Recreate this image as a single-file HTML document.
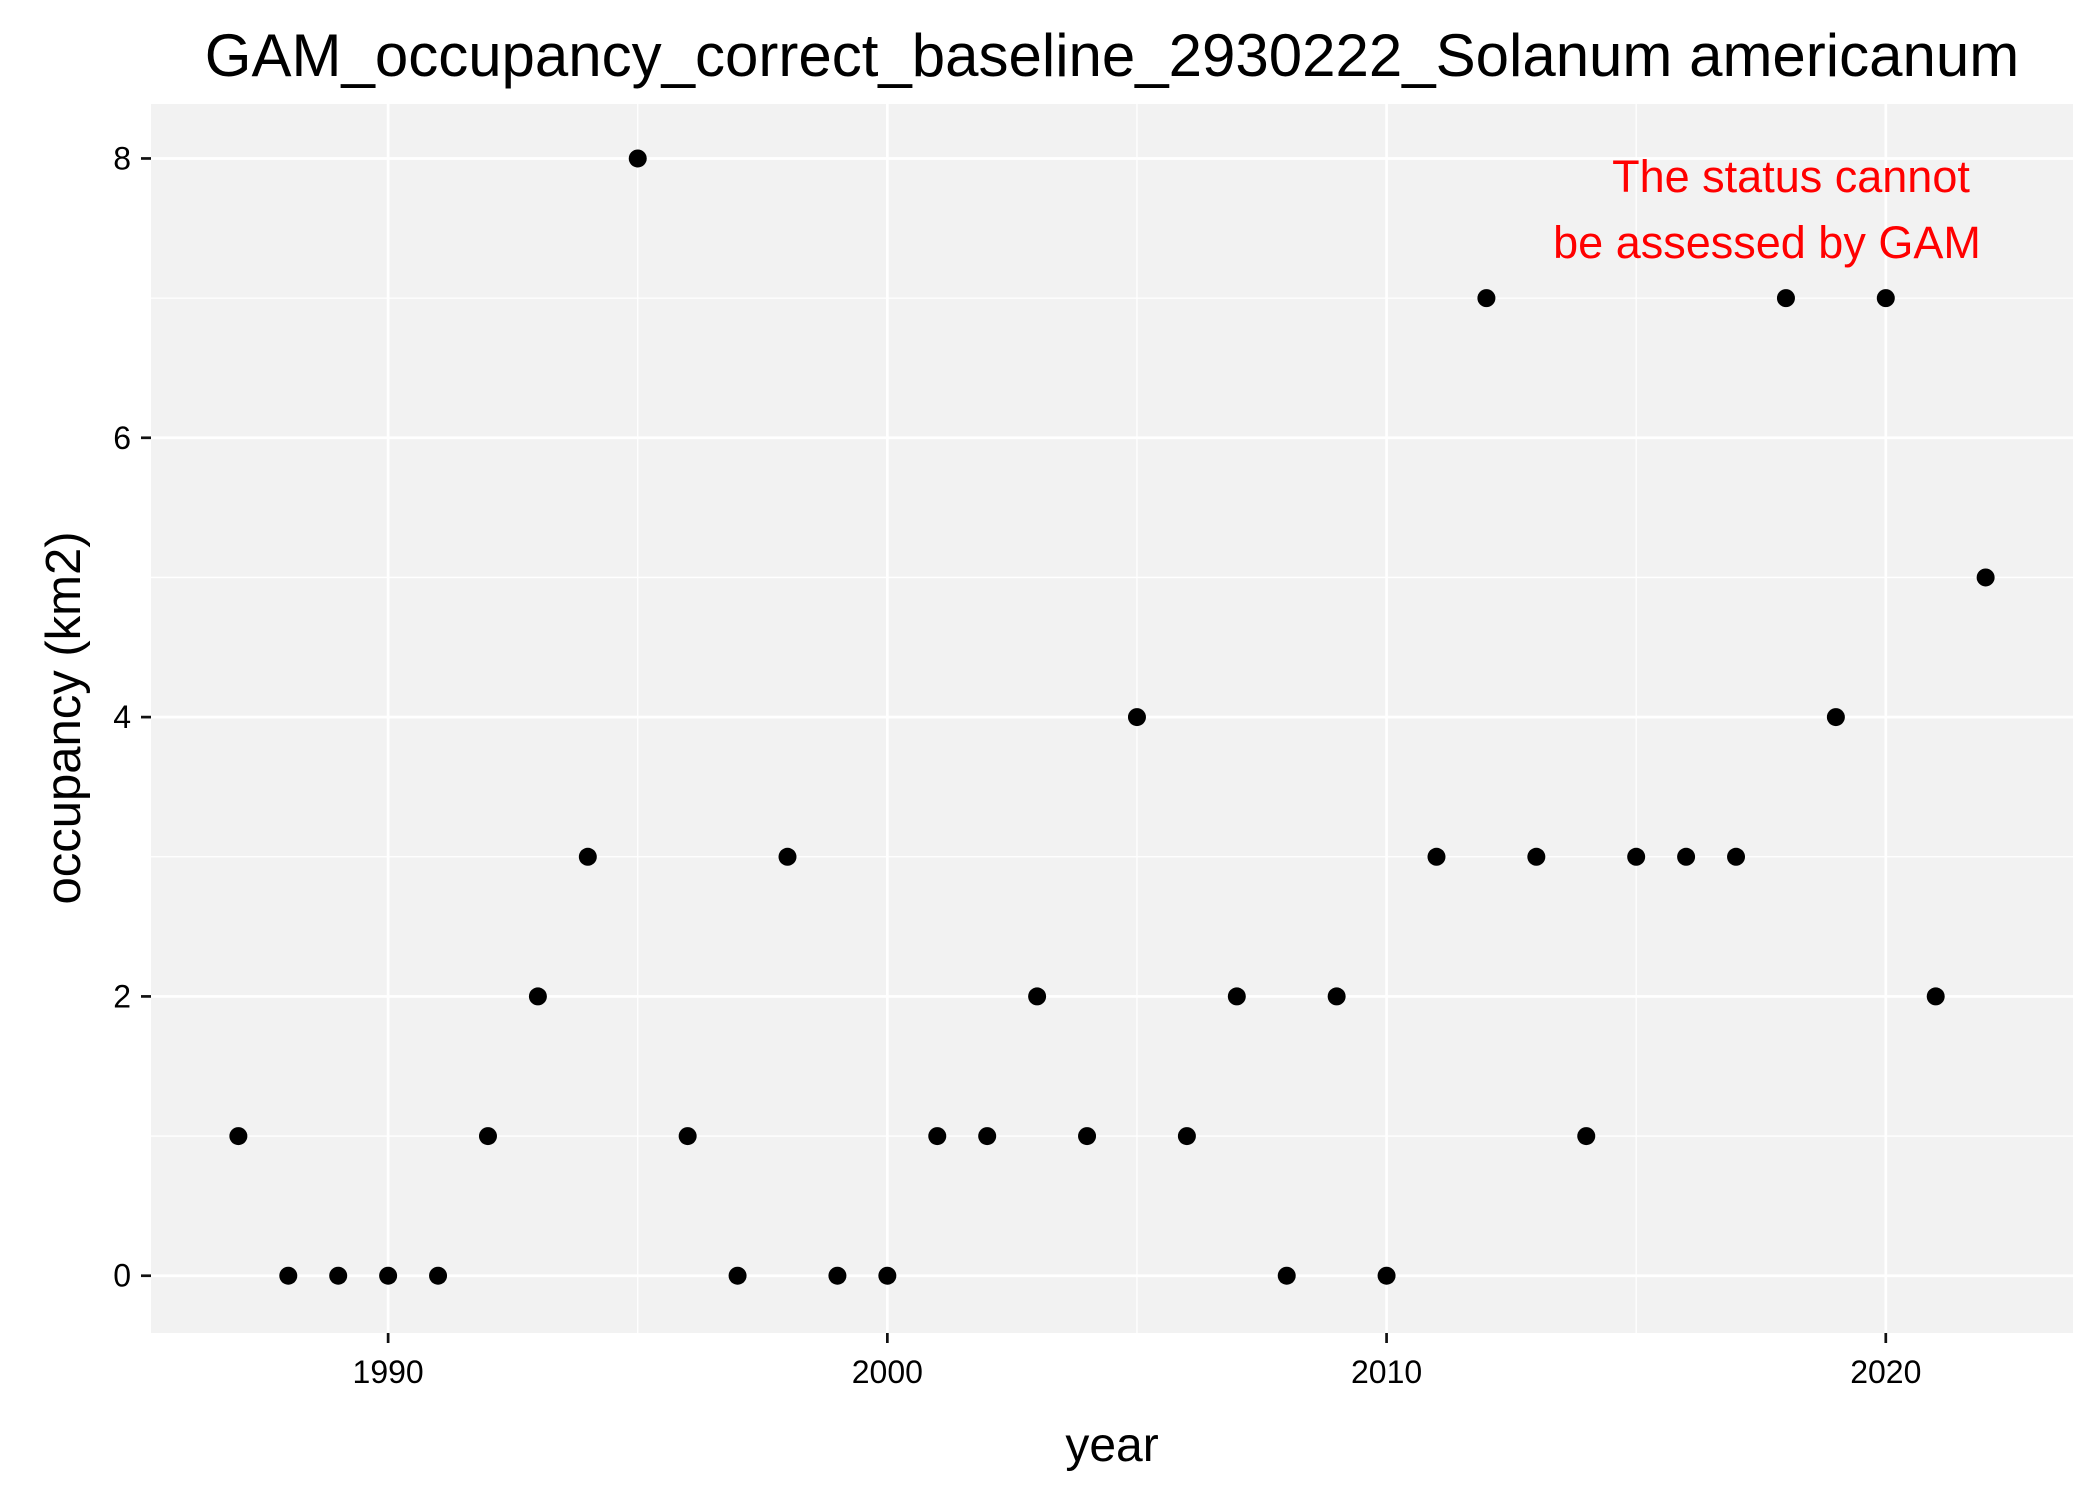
<!DOCTYPE html>
<html><head><meta charset="utf-8"><style>body{margin:0;background:#fff}svg{display:block;font-family:"Liberation Sans",Arial,sans-serif}</style></head>
<body>
<svg id="c" width="2100" height="1499" viewBox="0 0 2100 1499">
<text x="1112" y="76" font-size="60" text-anchor="middle">GAM_occupancy_correct_baseline_2930222_Solanum americanum</text>
<rect x="151" y="104" width="1922" height="1229" fill="#f2f2f2"/>
<g id="grid"></g><g id="axes"></g><g id="pts"></g>
<text x="1791" y="192" font-size="45" fill="#ff0000" text-anchor="middle">The status cannot</text>
<text x="1767" y="258" font-size="45" fill="#ff0000" text-anchor="middle">be assessed by GAM</text>
<text x="1112" y="1461" font-size="48" text-anchor="middle">year</text>
<text transform="translate(80,718) rotate(-90)" font-size="49" text-anchor="middle">occupancy (km2)</text>
</svg>
<script>
const years=[1987,1988,1989,1990,1991,1992,1993,1994,1995,1996,1997,1998,1999,2000,2001,2002,2003,2004,2005,2006,2007,2008,2009,2010,2011,2012,2013,2014,2015,2016,2017,2018,2019,2020,2021,2022];
const occupancy=[1,0,0,0,0,1,2,3,8,1,0,3,0,0,1,1,2,1,4,1,2,0,2,0,3,7,3,1,3,3,3,7,4,7,2,5];
const xTicks=[1990,2000,2010,2020];
const yTicks=[0,2,4,6,8];
const NS='http://www.w3.org/2000/svg';
const X0=151,X1=2073,Y0=104,Y1=1333,xMin=1985.25,xMax=2023.75,yMin=-0.41,yMax=8.39;
const xs=v=>X0+(v-xMin)/(xMax-xMin)*(X1-X0);
const ys=v=>Y1-(v-yMin)/(yMax-yMin)*(Y1-Y0);
function mk(tag,attrs,parent){const e=document.createElementNS(NS,tag);for(const k in attrs)e.setAttribute(k,attrs[k]);document.getElementById(parent).appendChild(e);return e;}
const grid='grid',axes='axes';
for(let i=0;i<xTicks.length;i++){
 const v=xTicks[i];
 const m=mk('line',{x1:xs(v-5),x2:xs(v-5),y1:Y0,y2:Y1,stroke:'#fff','stroke-width':1.3},grid);
 
 
 const g=mk('line',{x1:xs(v),x2:xs(v),y1:Y0,y2:Y1,stroke:'#fff','stroke-width':2.7},grid);
 
 
 const t=mk('line',{x1:xs(v),x2:xs(v),y1:Y1,y2:Y1+10,stroke:'#111','stroke-width':2.7},axes);
 
 
 const l=mk('text',{x:xs(v),y:Y1+50,'font-size':32,'text-anchor':'middle',fill:'#000'},axes);
 l.textContent=v;
 
 
}
{const m=mk('line',{x1:xs(2025),x2:xs(2025),y1:Y0,y2:Y1,stroke:'#fff','stroke-width':1.3},grid);}
for(let i=0;i<yTicks.length;i++){
 const v=yTicks[i];
 if(v>0){const m=mk('line',{x1:X0,x2:X1,y1:ys(v-1),y2:ys(v-1),stroke:'#fff','stroke-width':1.3},grid);
 
 }
 const g=mk('line',{x1:X0,x2:X1,y1:ys(v),y2:ys(v),stroke:'#fff','stroke-width':2.7},grid);
 
 
 const t=mk('line',{x1:X0-10,x2:X0,y1:ys(v),y2:ys(v),stroke:'#111','stroke-width':2.7},axes);
 
 
 const l=mk('text',{x:X0-20,y:ys(v)+11,'font-size':32,'text-anchor':'end',fill:'#000'},axes);
 l.textContent=v;
 
 
}
for(let i=0;i<years.length;i++){
 const p=mk('circle',{cx:xs(years[i]),cy:ys(occupancy[i]),r:9,fill:'#000'},'pts');
 
 
}
</script>
</body></html>
